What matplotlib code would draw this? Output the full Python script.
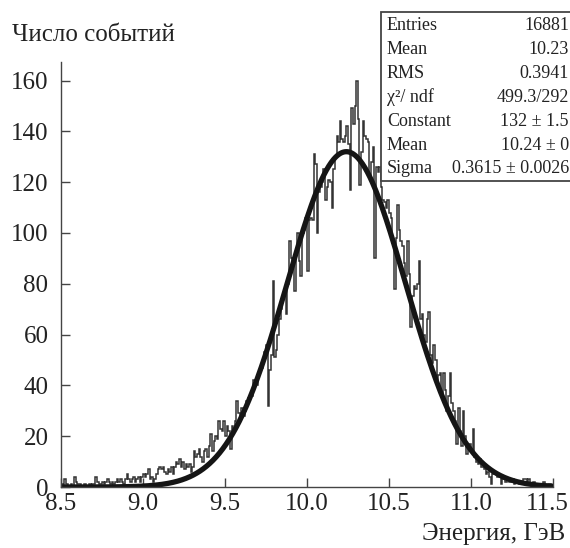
import numpy as np
import matplotlib
matplotlib.use('Agg')
import matplotlib.pyplot as plt
import matplotlib.transforms as mtransforms
from matplotlib.patches import Rectangle

plt.rcParams['font.family'] = ['Liberation Serif', 'DejaVu Serif']

# histogram: 300 bins of 0.01 GeV from 8.5 to 11.5
x_min, x_max = 8.5, 11.5
counts = [
    1, 0, 3, 1, 0, 0, 1, 0, 4, 2,
    1, 1, 0, 0, 1, 0, 0, 1, 0, 1,
    1, 4, 2, 1, 1, 2, 1, 2, 3, 2,
    1, 2, 1, 2, 3, 2, 3, 2, 1, 3,
    5, 3, 2, 3, 4, 2, 3, 4, 2, 4,
    5, 4, 5, 7, 3, 4, 2, 3, 5, 7,
    8, 7, 8, 6, 5, 7, 6, 8, 5, 8,
    10, 9, 11, 8, 10, 7, 9, 8, 9, 6,
    8, 14, 12, 13, 15, 12, 10, 14, 15, 12,
    16, 21, 14, 18, 20, 19, 26, 23, 22, 26,
    20, 24, 22, 15, 24, 23, 26, 34, 29, 27,
    31, 28, 30, 34, 35, 35, 36, 42, 41, 40,
    44, 46, 47, 50, 53, 56, 32, 46, 52, 81,
    51, 54, 60, 66, 70, 74, 77, 68, 80, 97,
    90, 87, 77, 92, 100, 89, 83, 100, 101, 106,
    85, 105, 106, 105, 131, 127, 100, 116, 118, 120,
    125, 113, 118, 121, 120, 110, 125, 130, 138, 136,
    144, 137, 136, 138, 142, 135, 117, 149, 143, 150,
    160, 145, 119, 132, 144, 138, 137, 136, 123, 128,
    134, 90, 126, 124, 126, 118, 113, 112, 110, 113,
    108, 106, 96, 78, 98, 111, 101, 97, 95, 88,
    83, 97, 84, 63, 75, 79, 78, 80, 89, 66,
    68, 60, 57, 66, 69, 52, 49, 56, 50, 41,
    44, 45, 37, 45, 38, 30, 36, 45, 33, 30,
    26, 17, 31, 22, 16, 30, 20, 13, 17, 17,
    14, 23, 12, 10, 9, 11, 8, 8, 7, 5,
    6, 4, 1, 5, 5, 5, 4, 4, 1, 3,
    3, 2, 3, 2, 2, 3, 1, 2, 2, 1,
    1, 2, 3, 3, 2, 3, 1, 1, 2, 1,
    1, 1, 0, 1, 2, 1, 0, 1, 1, 0,
]

# gaussian fit parameters (from the stats box)
fit_const = 132.0
fit_mean = 10.24
fit_sigma = 0.3615

stat_names = ['Entries', 'Mean', 'RMS', 'χ²/ ndf', 'Constant', 'Mean', 'Sigma']
stat_values = ['16881', '10.23', '0.3941', '499.3/292', '132 ± 1.5', '10.24 ± 0', '0.3615 ± 0.0026']

xticks = [8.5, 9.0, 9.5, 10.0, 10.5, 11.0, 11.5]
yticks = [0, 20, 40, 60, 80, 100, 120, 140, 160]

fig = plt.figure(figsize=(5.7, 5.48), dpi=100)
ax = fig.add_axes([61/570, 1 - 487/548, 492/570, 425/548])

edges = np.linspace(x_min, x_max, len(counts) + 1)
ax.stairs(counts, edges, color='#333333', lw=1.1)

xs = np.linspace(x_min, x_max, 600)
ax.plot(xs, fit_const * np.exp(-(xs - fit_mean)**2 / (2 * fit_sigma**2)),
        color='#151515', lw=3.8, solid_capstyle='round')

ax.set_xlim(x_min, x_max)
ax.set_ylim(0, 167.3)
ax.set_xticks(xticks)
ax.set_xticklabels(['%.1f' % t for t in xticks])
ax.set_yticks(yticks)
for s in ['top', 'right']:
    ax.spines[s].set_visible(False)
for s in ['left', 'bottom']:
    ax.spines[s].set_color('#444444')
    ax.spines[s].set_linewidth(1.0)
ax.tick_params(axis='both', direction='in', length=6.5, width=1.0, color='#444444',
               labelsize=18, labelcolor='#222222')
ax.tick_params(axis='y', pad=9)
ax.tick_params(axis='x', pad=4)

# last x label sits against the right edge, nudge it in
fig.canvas.draw()
lab = ax.get_xticklabels()[-1]
lab.set_transform(lab.get_transform() + mtransforms.ScaledTranslation(-6/100, 0, fig.dpi_scale_trans))

fig.text(12/570, 1 - 35/548, 'Число событий', fontsize=18, color='#222222',
         ha='left', va='center')
fig.text(565/570, 1 - 534/548, 'Энергия, ГэВ', fontsize=18, color='#222222',
         ha='right', va='center')

# stats box
box_left, box_top, box_bottom = 381/570, 1 - 12/548, 1 - 181/548
fig.patches.append(Rectangle((box_left, box_bottom), 1.2 - box_left, box_top - box_bottom,
                             transform=fig.transFigure, facecolor='white',
                             edgecolor='#444444', lw=1.3, zorder=5))
for i, (n, v) in enumerate(zip(stat_names, stat_values)):
    yy = 1 - (25 + 24 * i) / 548
    fig.text(387/570, yy, n, fontsize=13, color='#222222', ha='left', va='center', zorder=6)
    fig.text(569/570, yy, v, fontsize=13, color='#222222', ha='right', va='center', zorder=6)

fig.savefig('out.png', dpi=100)
